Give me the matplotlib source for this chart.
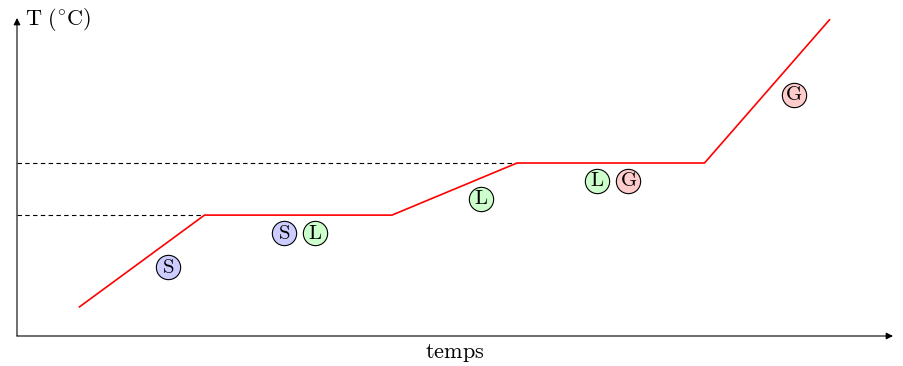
import matplotlib.pyplot as plt

plt.rcParams['mathtext.fontset'] = 'cm'
plt.rcParams['font.family'] = ['DejaVu Serif']

# courbe de chauffage
temps = [1, 3, 6, 8, 11, 13]
temperature = [0.47, 1.95, 1.95, 2.79, 2.79, 5.1]

# paliers (changement d'état)
paliers_y = [1.95, 2.79]
paliers_fin = [3, 8]

# étiquettes d'état
etat_lettres = ['S', 'S', 'L', 'L', 'L', 'G', 'G']
etat_x = [2.42, 4.27, 4.77, 7.42, 9.28, 9.78, 12.43]
etat_y = [1.11, 1.66, 1.66, 2.21, 2.50, 2.50, 3.89]
couleurs = {'S': '#ccccff', 'L': '#ccffcc', 'G': '#ffcccc'}

ux, uy = 62.5, 62.0
fig = plt.figure(figsize=(9.04, 3.66), dpi=100)
ax = fig.add_axes([0, 0, 1, 1])
ax.set_xlim(-17 / ux, (904 - 17) / ux)
ax.set_ylim(-30 / uy, 336 / uy)
ax.axis('off')

# axes avec flèches
xmax = (893 - 17) / ux
ymax = (336 - 18) / uy
ax.annotate('', xy=(xmax, 0), xytext=(0, 0),
            arrowprops=dict(arrowstyle='-|>', color='black', lw=0.8,
                            mutation_scale=10, shrinkA=0, shrinkB=0))
ax.annotate('', xy=(0, ymax), xytext=(0, 0),
            arrowprops=dict(arrowstyle='-|>', color='black', lw=0.8,
                            mutation_scale=10, shrinkA=0, shrinkB=0))
ax.text(0.13, ymax - 0.02, r'$\mathrm{T\ (}^{\circ}\mathrm{C)}$', fontsize=16,
        ha='left', va='center')
ax.text(7.0, -0.28, r'$\mathrm{temps}$', fontsize=16,
        ha='center', va='center')

for yv, xf in zip(paliers_y, paliers_fin):
    ax.plot([0, xf], [yv, yv], color='black', lw=0.8, ls=(0, (4, 3)))

ax.plot(temps, temperature, color='red', lw=1.2)

for lettre, xv, yv in zip(etat_lettres, etat_x, etat_y):
    ax.plot(xv, yv, 'o', ms=17.5, mfc=couleurs[lettre], mec='black', mew=0.8)
    ax.text(xv, yv, r'$\mathrm{%s}$' % lettre, fontsize=15,
            ha='center', va='center')

fig.savefig('out.png', dpi=100)
